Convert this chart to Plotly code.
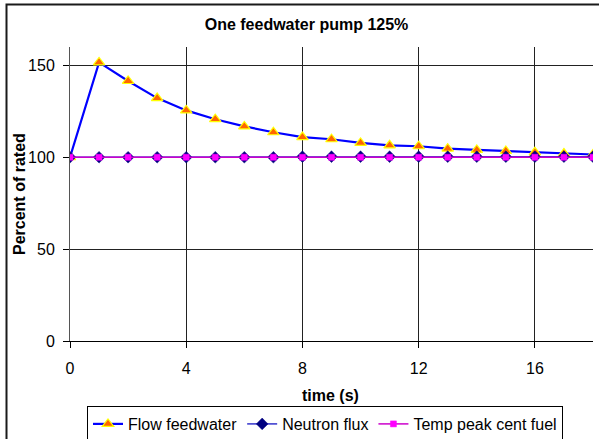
import plotly.graph_objects as go

# Transient response after one feedwater pump runs at 125%
time_s = list(range(0, 19))
flow_feedwater = [100, 151.6, 141.5, 132.2, 125.5, 120.7, 116.8, 113.6, 111.0, 109.8,
                  107.8, 106.5, 106.0, 104.7, 104.0, 103.4, 102.7, 102.0, 101.5]
neutron_flux = [100, 100, 100, 100, 100, 100, 100, 100, 100.3, 100.3,
                100.3, 100.3, 100.3, 100.3, 100.3, 100.3, 100.3, 100.3, 100.3]
temp_peak_cent_fuel = [100] * 19

x_ticks = [0, 4, 8, 12, 16]
y_ticks = [0, 50, 100, 150]

FONT = "Liberation Sans, Arial, sans-serif"

# Plot area in pixels (for placing the outer chart frame and titles)
W, H = 599, 439
L, R, T, B = 70, 6, 47, 98
pw, ph = W - L - R, H - T - B


def px_to_paper_x(px):
    return (px - L) / pw


def px_to_paper_y(py):
    return (H - B - py) / ph


fig = go.Figure()

fig.add_trace(go.Scatter(
    x=time_s, y=flow_feedwater, name="Flow feedwater", mode="lines+markers",
    line=dict(color="#0000FF", width=2.2),
    marker=dict(symbol="triangle-up", size=10, color="#FF6600",
                line=dict(color="#FFFF00", width=1.2)),
))
fig.add_trace(go.Scatter(
    x=time_s, y=neutron_flux, name="Neutron flux", mode="lines+markers",
    line=dict(color="#3333CC", width=1.5),
    marker=dict(symbol="diamond", size=9, color="#000080",
                line=dict(color="#000080", width=0.5)),
))
fig.add_trace(go.Scatter(
    x=time_s, y=temp_peak_cent_fuel, name="Temp peak cent fuel", mode="lines+markers",
    line=dict(color="#CC00CC", width=1.5),
    marker=dict(symbol="square", size=6, color="#FF00FF",
                line=dict(color="#FF00FF", width=0.5)),
))

fig.update_layout(
    width=W, height=H,
    margin=dict(l=L, r=R, t=T, b=B, pad=0, autoexpand=False),
    paper_bgcolor="white", plot_bgcolor="white",
    font=dict(family=FONT, color="black", size=16),
    title=dict(text="<b>One feedwater pump 125%</b>",
               font=dict(family=FONT, size=16, color="black"),
               xref="paper", x=px_to_paper_x(306.5), xanchor="center",
               yref="container", y=1 - 24 / H, yanchor="middle"),
    showlegend=True,
    legend=dict(orientation="h", xref="paper", yref="paper",
                x=px_to_paper_x(325), xanchor="center",
                y=px_to_paper_y(406), yanchor="top",
                bordercolor="black", borderwidth=1, bgcolor="white",
                font=dict(family=FONT, size=16, color="black"),
                itemwidth=30, tracegroupgap=0),
    xaxis=dict(range=[0, 18], tickvals=x_ticks, ticktext=[str(v) for v in x_ticks],
               showgrid=True, gridcolor="#222222", gridwidth=1,
               zeroline=False, showline=True, linecolor="black", linewidth=1,
               ticks="outside", ticklen=6, tickcolor="black",
               ticklabelstandoff=7, tickfont=dict(family=FONT, size=16),
               fixedrange=True),
    yaxis=dict(range=[0, 160], tickvals=y_ticks, ticktext=[str(v) for v in y_ticks],
               showgrid=True, gridcolor="#222222", gridwidth=1,
               zeroline=False, showline=True, linecolor="#555555", linewidth=1,
               ticks="outside", ticklen=6, tickcolor="black",
               ticklabelstandoff=5, tickfont=dict(family=FONT, size=16),
               fixedrange=True),
    annotations=[
        dict(text="<b>time (s)</b>", xref="paper", yref="paper",
             x=px_to_paper_x(330), y=px_to_paper_y(395),
             xanchor="center", yanchor="middle", showarrow=False,
             font=dict(family=FONT, size=16, color="black")),
        dict(text="<b>Percent of rated</b>", xref="paper", yref="paper",
             x=px_to_paper_x(19), y=px_to_paper_y(194), textangle=-90,
             xanchor="center", yanchor="middle", showarrow=False,
             font=dict(family=FONT, size=16, color="black")),
    ],
    shapes=[
        # chart frame (left and top edges visible)
        dict(type="rect", xref="paper", yref="paper", layer="above",
             x0=px_to_paper_x(6.5), x1=px_to_paper_x(W + 5),
             y0=px_to_paper_y(H + 5), y1=px_to_paper_y(4.5),
             line=dict(color="#1a1a1a", width=2), fillcolor="rgba(0,0,0,0)"),
    ],
)

fig.write_html("out.html", include_plotlyjs=True, config={"displayModeBar": False})
